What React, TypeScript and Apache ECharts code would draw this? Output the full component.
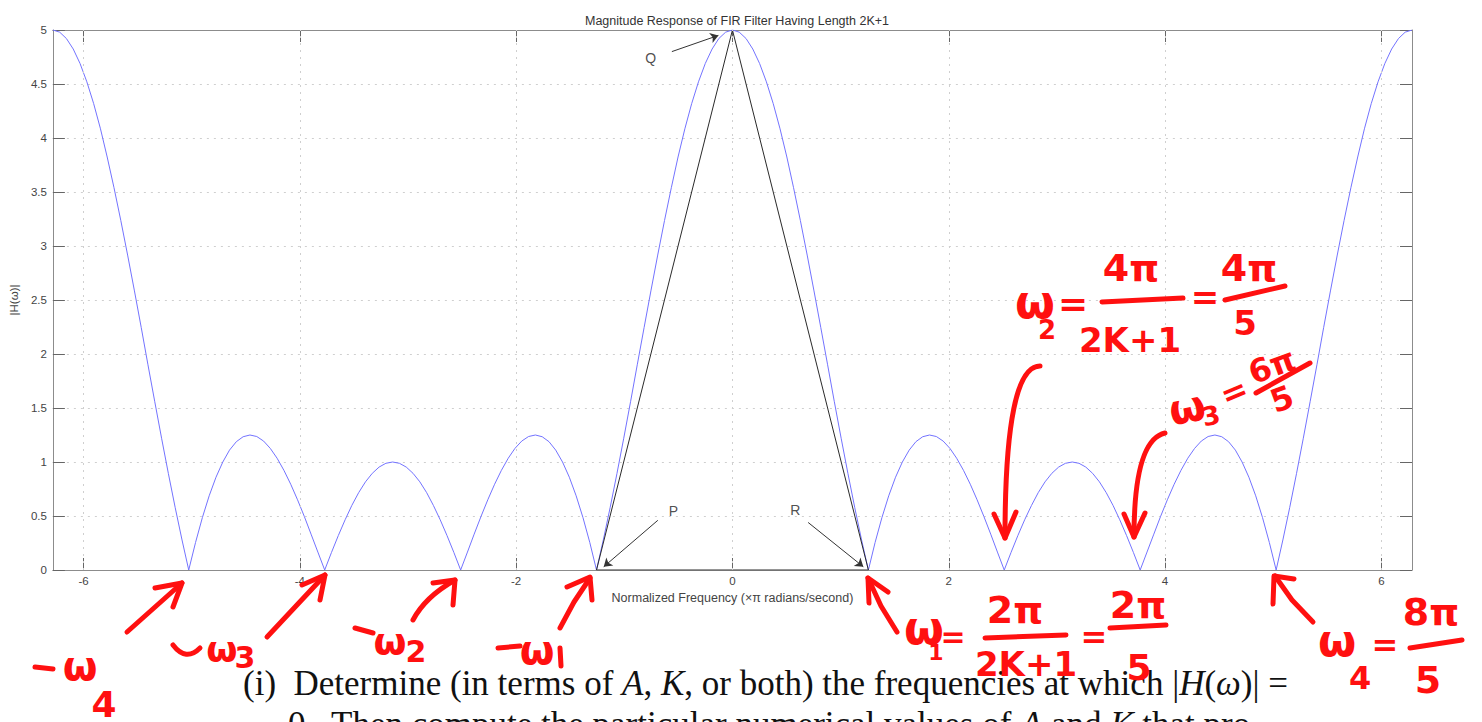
import React, { useEffect, useRef } from "react";
import * as echarts from "echarts";

const omega = [
  -6.283, -6.220, -6.158, -6.095, -6.032, -5.969, -5.906, -5.843, -5.781, -5.718,
  -5.655, -5.592, -5.529, -5.466, -5.404, -5.341, -5.278, -5.215, -5.152, -5.089,
  -5.027, -4.964, -4.901, -4.838, -4.775, -4.712, -4.650, -4.587, -4.524, -4.461,
  -4.398, -4.335, -4.273, -4.210, -4.147, -4.084, -4.021, -3.958, -3.896, -3.833,
  -3.770, -3.707, -3.644, -3.581, -3.519, -3.456, -3.393, -3.330, -3.267, -3.204,
  -3.142, -3.079, -3.016, -2.953, -2.890, -2.827, -2.765, -2.702, -2.639, -2.576,
  -2.513, -2.450, -2.388, -2.325, -2.262, -2.199, -2.136, -2.073, -2.011, -1.948,
  -1.885, -1.822, -1.759, -1.696, -1.634, -1.571, -1.508, -1.445, -1.382, -1.319,
  -1.257, -1.194, -1.131, -1.068, -1.005, -0.942, -0.880, -0.817, -0.754, -0.691,
  -0.628, -0.565, -0.503, -0.440, -0.377, -0.314, -0.251, -0.188, -0.126, -0.063,
  0,
  0.063, 0.126, 0.188, 0.251, 0.314, 0.377, 0.440, 0.503, 0.565, 0.628,
  0.691, 0.754, 0.817, 0.880, 0.942, 1.005, 1.068, 1.131, 1.194, 1.257,
  1.319, 1.382, 1.445, 1.508, 1.571, 1.634, 1.696, 1.759, 1.822, 1.885,
  1.948, 2.011, 2.073, 2.136, 2.199, 2.262, 2.325, 2.388, 2.450, 2.513,
  2.576, 2.639, 2.702, 2.765, 2.827, 2.890, 2.953, 3.016, 3.079, 3.142,
  3.204, 3.267, 3.330, 3.393, 3.456, 3.519, 3.581, 3.644, 3.707, 3.770,
  3.833, 3.896, 3.958, 4.021, 4.084, 4.147, 4.210, 4.273, 4.335, 4.398,
  4.461, 4.524, 4.587, 4.650, 4.712, 4.775, 4.838, 4.901, 4.964, 5.027,
  5.089, 5.152, 5.215, 5.278, 5.341, 5.404, 5.466, 5.529, 5.592, 5.655,
  5.718, 5.781, 5.843, 5.906, 5.969, 6.032, 6.095, 6.158, 6.220, 6.283,
];

const magnitude = [
  5.000, 4.980, 4.921, 4.824, 4.690, 4.520, 4.318, 4.085, 3.824, 3.540,
  3.236, 2.916, 2.584, 2.244, 1.900, 1.558, 1.220, 0.892, 0.577, 0.278,
  0.000, 0.255, 0.485, 0.687, 0.859, 1.000, 1.110, 1.188, 1.234, 1.250,
  1.236, 1.194, 1.126, 1.035, 0.923, 0.794, 0.650, 0.495, 0.332, 0.166,
  0.000, 0.163, 0.319, 0.465, 0.598, 0.716, 0.816, 0.895, 0.953, 0.988,
  1.000, 0.988, 0.953, 0.895, 0.816, 0.716, 0.598, 0.465, 0.319, 0.163,
  0.000, 0.166, 0.332, 0.495, 0.650, 0.794, 0.923, 1.035, 1.126, 1.194,
  1.236, 1.250, 1.234, 1.188, 1.110, 1.000, 0.859, 0.687, 0.485, 0.255,
  0.000, 0.278, 0.577, 0.892, 1.220, 1.558, 1.900, 2.244, 2.584, 2.916,
  3.236, 3.540, 3.824, 4.085, 4.318, 4.520, 4.690, 4.824, 4.921, 4.980,
  5.000,
  4.980, 4.921, 4.824, 4.690, 4.520, 4.318, 4.085, 3.824, 3.540, 3.236,
  2.916, 2.584, 2.244, 1.900, 1.558, 1.220, 0.892, 0.577, 0.278, 0.000,
  0.255, 0.485, 0.687, 0.859, 1.000, 1.110, 1.188, 1.234, 1.250, 1.236,
  1.194, 1.126, 1.035, 0.923, 0.794, 0.650, 0.495, 0.332, 0.166, 0.000,
  0.163, 0.319, 0.465, 0.598, 0.716, 0.816, 0.895, 0.953, 0.988, 1.000,
  0.988, 0.953, 0.895, 0.816, 0.716, 0.598, 0.465, 0.319, 0.163, 0.000,
  0.166, 0.332, 0.495, 0.650, 0.794, 0.923, 1.035, 1.126, 1.194, 1.236,
  1.250, 1.234, 1.188, 1.110, 1.000, 0.859, 0.687, 0.485, 0.255, 0.000,
  0.278, 0.577, 0.892, 1.220, 1.558, 1.900, 2.244, 2.584, 2.916, 3.236,
  3.540, 3.824, 4.085, 4.318, 4.520, 4.690, 4.824, 4.921, 4.980, 5.000,
];

const FREQ_MIN = -6.283;
const FREQ_MAX = 6.283;
const xTicks = [-6, -4, -2, 0, 2, 4, 6];

// Triangle P-Q-R
const triangleOmega = [-1.257, 0, 1.257, -1.257];
const triangleMag = [0, 5, 0, 0];

// Point labels and their arrows
const pointNames = ["P", "Q", "R"];
const pointLabelOmega = [-0.545, -0.757, 0.582];
const pointLabelMag = [0.55, 4.74, 0.56];
const arrowStartOmega = [-0.69, -0.56, 0.70];
const arrowStartMag = [0.46, 4.80, 0.44];
const arrowEndOmega = [-1.19, -0.13, 1.21];
const arrowEndMag = [0.03, 4.95, 0.03];

const RED = "#ff1010";
const HAND_FONT = '"DejaVu Sans", "Liberation Sans", sans-serif';
const SANS = '"Liberation Sans", Arial, sans-serif';
const SERIF = '"Liberation Serif", "DejaVu Serif", serif';

function stroke(points: number[][], w = 5) {
  return {
    type: "polyline",
    z: 100,
    silent: true,
    shape: { points },
    style: { stroke: RED, lineWidth: w, lineCap: "round", lineJoin: "round", fill: null },
  };
}
function curve(x1: number, y1: number, cx: number, cy: number, x2: number, y2: number, w = 5) {
  return {
    type: "bezierCurve",
    z: 100,
    silent: true,
    shape: { x1, y1, cpx1: cx, cpy1: cy, x2, y2 },
    style: { stroke: RED, lineWidth: w, lineCap: "round", fill: null },
  };
}
function hand(x: number, y: number, text: string, size: number, rotation = 0) {
  return {
    type: "text",
    z: 100,
    silent: true,
    x,
    y,
    rotation,
    style: {
      text,
      fill: RED,
      fontFamily: HAND_FONT,
      fontWeight: "bold",
      fontSize: size,
      textAlign: "center",
      textVerticalAlign: "middle",
      align: "center",
      verticalAlign: "middle",
    },
  };
}
function question(x: number, y: number, text: string) {
  return {
    type: "text",
    z: 90,
    silent: true,
    x,
    y,
    style: {
      text,
      fill: "#111",
      fontFamily: SERIF,
      fontSize: 35,
      textVerticalAlign: "middle",
      verticalAlign: "middle",
      rich: { i: { fontStyle: "italic", fontFamily: SERIF, fontSize: 35, fill: "#111" } },
    },
  };
}

export default function App() {
  const ref = useRef<HTMLDivElement>(null);
  useEffect(() => {
    if (!ref.current) return;
    const chart = echarts.init(ref.current, null, { renderer: "svg" });
    const axisGray = "#8c8c8c";
    const tickFont = { fontFamily: SANS, fontSize: 11.5, color: "#444" };
    const gridDot = { color: "#cfcfcf", width: 1, type: [2, 5] as any };

    const annotations: any[] = [
      // ω2 = 4π/(2K+1) = 4π/5
      hand(1035, 302, "ω", 46),
      hand(1047, 330, "2", 26),
      hand(1073, 303, "=", 36),
      hand(1131, 268, "4π", 38),
      stroke([[1102, 302], [1183, 298]]),
      hand(1130, 340, "2K+1", 34),
      hand(1205, 297, "=", 34),
      hand(1249, 268, "4π", 38),
      stroke([[1225, 300], [1285, 286]]),
      hand(1245, 323, "5", 34),
      curve(1040, 366, 1005, 366, 1005, 538),
      stroke([[994, 514], [1005, 538], [1016, 512]]),
      // ω3 = 6π/5
      hand(1187, 408, "ω", 42, 0.2),
      hand(1211, 416, "3", 26, 0.2),
      hand(1234, 392, "=", 32, 0.4),
      hand(1272, 366, "6π", 32, 0.35),
      stroke([[1256, 393], [1310, 363]]),
      hand(1282, 399, "5", 32, 0.35),
      curve(1165, 433, 1134, 440, 1134, 537),
      stroke([[1124, 514], [1134, 537], [1145, 513]]),
      // ω1 = 2π/(2K+1) = 2π/5
      stroke([[897, 632], [881, 606], [868, 578]]),
      stroke([[869, 603], [868, 578], [888, 592]]),
      hand(924, 628, "ω", 46),
      hand(936, 652, "1", 22),
      hand(953, 636, "=", 30),
      hand(1015, 610, "2π", 38),
      stroke([[985, 638], [1066, 635]]),
      hand(1026, 664, "2K+1", 34),
      hand(1094, 637, "=", 32),
      hand(1138, 605, "2π", 38),
      stroke([[1110, 628], [1166, 625]]),
      hand(1139, 667, "5", 36),
      // ω4 = 8π/5
      stroke([[1313, 622], [1292, 600], [1275, 576]]),
      stroke([[1273, 604], [1274, 576], [1294, 579]]),
      hand(1337, 640, "ω", 44),
      hand(1360, 678, "4", 32),
      hand(1385, 645, "=", 32),
      hand(1431, 612, "8π", 38),
      stroke([[1410, 648], [1462, 640]]),
      hand(1428, 680, "5", 38),
      // -ω1
      stroke([[498, 648], [520, 646]]),
      hand(537, 650, "ω", 40),
      stroke([[560, 648], [561, 666]]),
      stroke([[560, 628], [574, 602], [590, 578]]),
      stroke([[567, 587], [590, 577], [592, 600]]),
      // -ω2
      stroke([[355, 628], [373, 633]]),
      hand(390, 641, "ω", 38),
      hand(416, 651, "2", 30),
      curve(413, 620, 425, 597, 455, 580),
      stroke([[433, 583], [455, 580], [453, 605]]),
      // -ω3
      curve(173, 645, 186, 662, 200, 648),
      hand(222, 649, "ω", 36),
      hand(245, 657, "3", 30),
      stroke([[267, 637], [325, 575]]),
      stroke([[302, 585], [325, 575], [320, 600]]),
      // -ω4
      stroke([[35, 667], [53, 669]]),
      hand(80, 666, "ω", 40),
      hand(104, 704, "4", 36),
      stroke([[127, 632], [182, 583]]),
      stroke([[155, 588], [182, 583], [173, 607]]),
      // Question text
      question(243, 683, "(i)  Determine (in terms of {i|A}, {i|K}, or both) the frequencies at which |{i|H}({i|ω})| ="),
      question(288, 724, "0.  Then compute the particular numerical values of {i|A} and {i|K} that pro-"),
    ];

    chart.setOption({
      animation: false,
      backgroundColor: "#ffffff",
      title: {
        text: "Magnitude Response of FIR Filter Having Length 2K+1",
        left: 732,
        textAlign: "center",
        top: 9,
        textStyle: { fontFamily: SANS, fontSize: 12.5, fontWeight: "normal", color: "#333" },
      },
      grid: { left: 52, right: 70, top: 30, bottom: 152, containLabel: false },
      xAxis: [
        {
          type: "value",
          min: FREQ_MIN,
          max: FREQ_MAX,
          name: "Normalized Frequency (×π radians/second)",
          nameLocation: "middle",
          nameGap: 20,
          nameTextStyle: { fontFamily: SANS, fontSize: 12.5, color: "#444" },
          axisLine: { show: true, onZero: false, lineStyle: { color: axisGray, width: 1 } },
          axisTick: { show: true, inside: true, length: 12, customValues: xTicks, lineStyle: { color: "#666" } },
          axisLabel: { show: true, customValues: xTicks, margin: 5, ...tickFont },
          splitLine: { show: false },
        },
        {
          type: "value",
          position: "top",
          min: FREQ_MIN,
          max: FREQ_MAX,
          axisLine: { show: true, onZero: false, lineStyle: { color: axisGray, width: 1 } },
          axisTick: { show: true, inside: true, length: 12, customValues: xTicks, lineStyle: { color: "#666" } },
          axisLabel: { show: false },
          splitLine: { show: false },
        },
      ],
      yAxis: [
        {
          type: "value",
          min: 0,
          max: 5,
          interval: 0.5,
          name: "|H(ω)|",
          nameLocation: "middle",
          nameRotate: 90,
          nameGap: 31,
          nameTextStyle: { fontFamily: SANS, fontSize: 11.5, color: "#444" },
          axisLine: { show: true, onZero: false, lineStyle: { color: axisGray, width: 1 } },
          axisTick: { show: true, inside: true, length: 12, lineStyle: { color: "#666" } },
          axisLabel: { show: true, margin: 6, ...tickFont },
          splitLine: { show: true, lineStyle: gridDot },
        },
        {
          type: "value",
          position: "right",
          min: 0,
          max: 5,
          interval: 0.5,
          axisLine: { show: true, onZero: false, lineStyle: { color: axisGray, width: 1 } },
          axisTick: { show: true, inside: true, length: 12, lineStyle: { color: "#666" } },
          axisLabel: { show: false },
          splitLine: { show: false },
        },
      ],
      series: [
        {
          name: "grid",
          type: "line",
          data: [],
          silent: true,
          z: 1,
          markLine: {
            silent: true,
            symbol: ["none", "none"],
            label: { show: false },
            lineStyle: gridDot,
            data: xTicks.map((v) => ({ xAxis: v })),
          },
        },
        {
          name: "|H(ω)|",
          type: "line",
          data: omega.map((w, i) => [w, magnitude[i]]),
          showSymbol: false,
          symbol: "none",
          lineStyle: { color: "#7373ff", width: 1 },
          z: 3,
        },
        {
          name: "triangle",
          type: "line",
          data: triangleOmega.map((w, i) => [w, triangleMag[i]]),
          showSymbol: false,
          symbol: "none",
          lineStyle: { color: "#2a2a2a", width: 1 },
          z: 4,
        },
        {
          name: "arrows",
          type: "line",
          data: [],
          z: 5,
          markLine: {
            silent: true,
            symbol: ["none", "arrow"],
            symbolSize: 8,
            label: { show: false },
            lineStyle: { color: "#333", width: 1, type: "solid" },
            data: pointNames.map((_, i) => [
              { coord: [arrowStartOmega[i], arrowStartMag[i]] },
              { coord: [arrowEndOmega[i], arrowEndMag[i]] },
            ]),
          },
        },
        {
          name: "labels",
          type: "scatter",
          symbolSize: 1,
          itemStyle: { color: "rgba(0,0,0,0)" },
          z: 6,
          label: {
            show: true,
            position: "inside",
            formatter: (p: any) => p.name,
            fontFamily: SANS,
            fontSize: 14,
            color: "#222",
          },
          data: pointNames.map((n, i) => ({ name: n, value: [pointLabelOmega[i], pointLabelMag[i]] })),
        },
      ],
      graphic: { elements: annotations },
    });
    return () => chart.dispose();
  }, []);
  return (
    <div
      ref={ref}
      style={{ position: "absolute", left: 0, top: 0, width: 1482, height: 722, background: "#fff" }}
    />
  );
}
